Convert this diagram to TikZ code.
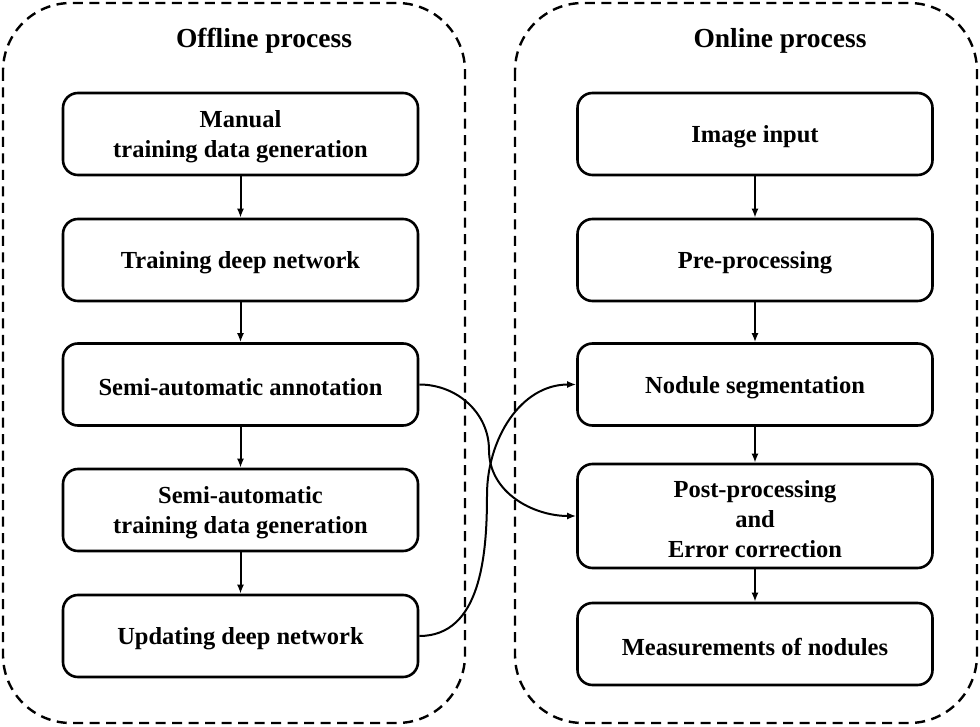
\documentclass[tikz,border=0pt]{standalone}
\usepackage{fontspec}
\setmainfont{Liberation Serif}
\usetikzlibrary{arrows.meta}
\begin{document}
\begin{tikzpicture}[x=1pt,y=-1pt,
  container/.style={draw, line width=2.4pt, dash pattern=on 10pt off 6.5pt, rounded corners=68pt},
  procbox/.style={draw, line width=2.6pt, rounded corners=15pt, minimum width=355pt, minimum height=82pt,
    align=center, font=\bfseries\fontsize{24.5}{30}\selectfont, inner sep=0pt},
  boxtext/.style={align=center, font=\bfseries\fontsize{24.5}{30}\selectfont, inner sep=0pt, yshift=-3pt},
  title/.style={font=\bfseries\fontsize{27.5}{32}\selectfont},
  flow/.style={line width=2pt, -{Latex[length=9pt,width=7pt]}}
]
\useasboundingbox (0,0) rectangle (980,727);
\draw[container] (3,3) rectangle (465,723);
\draw[container] (515,3) rectangle (977,723);
\node[title] (toff) at (264,41) {Offline process};
\node[title] (ton) at (780,41) {Online process};

\node[procbox] (a1) at (240.5,134) {};
\node[procbox] (a2) at (240.5,260) {};
\node[procbox] (a3) at (240.5,384.5) {};
\node[procbox] (a4) at (240.5,510) {};
\node[procbox] (a5) at (240.5,636) {};
\node[boxtext] (ta1) at (a1.center) {Manual\\training data generation};
\node[boxtext] (ta2) at (a2.center) {Training deep network};
\node[boxtext] (ta3) at (a3.center) {Semi-automatic annotation};
\node[boxtext] (ta4) at (a4.center) {Semi-automatic\\training data generation};
\node[boxtext] (ta5) at (a5.center) {Updating deep network};

\node[procbox] (b1) at (755,134) {};
\node[procbox] (b2) at (755,260) {};
\node[procbox] (b3) at (755,384.5) {};
\node[procbox, minimum height=104pt] (b4) at (755,516) {};
\node[procbox] (b5) at (755,644) {};
\node[boxtext] (tb1) at (b1.center) {Image input};
\node[boxtext] (tb2) at (b2.center) {Pre-processing};
\node[boxtext] (tb3) at (b3.center) {Nodule segmentation};
\node[boxtext] (tb4) at (b4.center) {Post-processing\\and\\Error correction};
\node[boxtext] (tb5) at (b5.center) {Measurements of nodules};

\draw[flow] (a1) -- (a2);
\draw[flow] (a2) -- (a3);
\draw[flow] (a3) -- (a4);
\draw[flow] (a4) -- (a5);
\draw[flow] (b1) -- (b2);
\draw[flow] (b2) -- (b3);
\draw[flow] (b3) -- (b4);
\draw[flow] (b4) -- (b5);

\coordinate (m1) at (489,450);
\coordinate (m2) at (487,495);
\draw[flow] (a3.east) to[out=0,in=90] (m1) to[out=-90,in=180] (b4.west);
\draw[flow] (a5.east) to[out=0,in=-90] (m2) to[out=90,in=180] (b3.west);
\end{tikzpicture}
\end{document}
